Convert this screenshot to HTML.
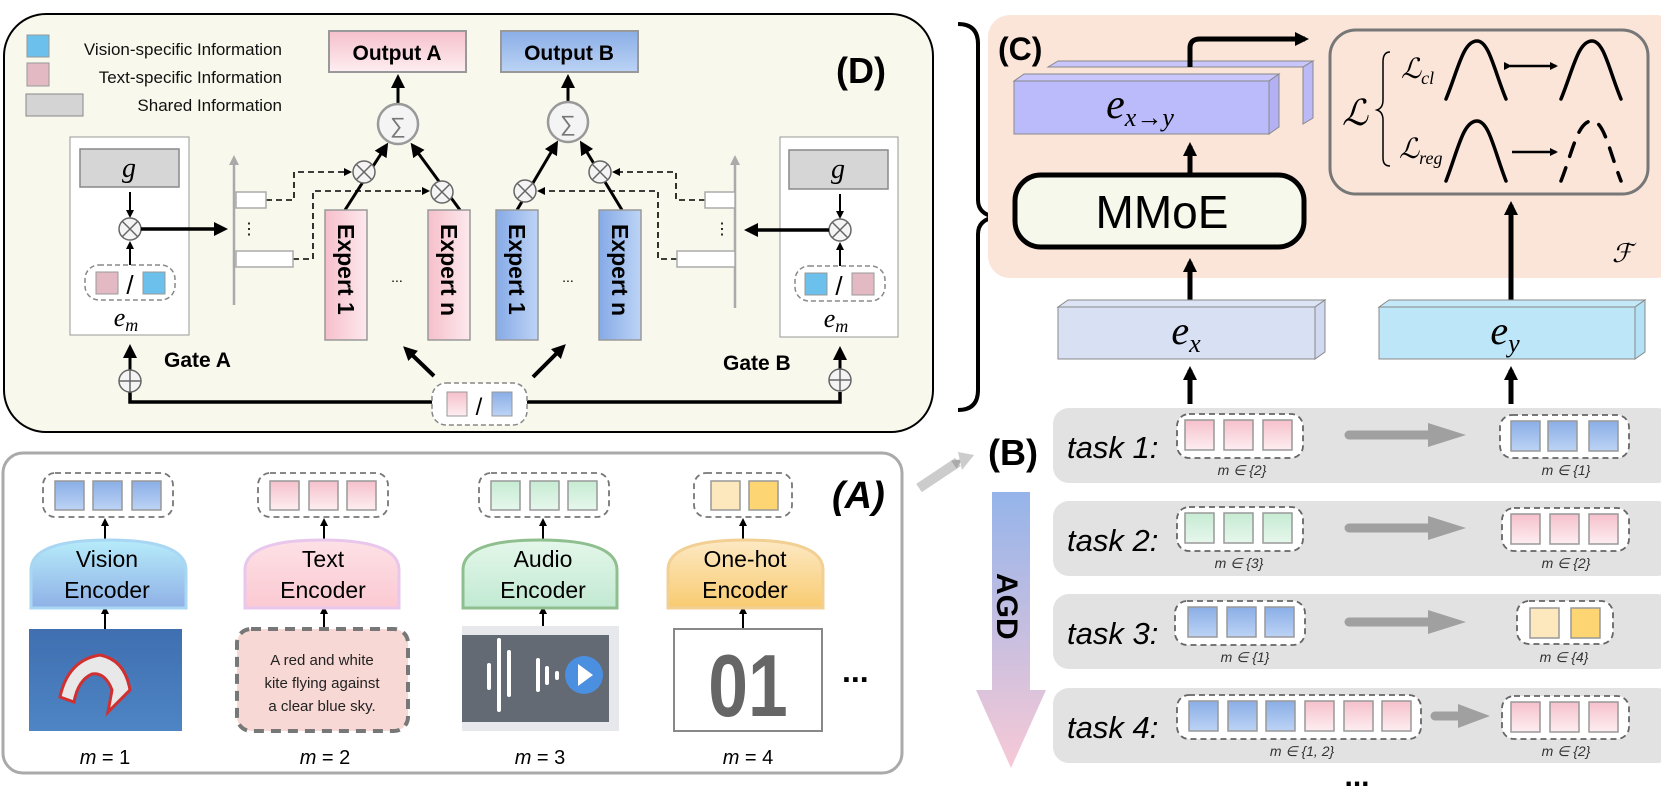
<!DOCTYPE html>
<html><head><meta charset="utf-8"><style>
html,body{margin:0;padding:0;background:#fff}
svg{display:block}
text{font-family:"Liberation Sans",sans-serif}
.s{font-family:"Liberation Serif",serif;font-style:italic}
</style></head><body>
<svg width="1661" height="793" viewBox="0 0 1661 793" xmlns="http://www.w3.org/2000/svg">
<defs>
<linearGradient id="pk" x1="0" y1="0" x2="0" y2="1"><stop offset="0" stop-color="#f6c0cb"/><stop offset="1" stop-color="#fdeef1"/></linearGradient>
<linearGradient id="bl" x1="0" y1="0" x2="0" y2="1"><stop offset="0" stop-color="#8aaee6"/><stop offset="1" stop-color="#bcd3f5"/></linearGradient>
<linearGradient id="gr" x1="0" y1="0" x2="0" y2="1"><stop offset="0" stop-color="#c6ebd3"/><stop offset="1" stop-color="#e6f7ec"/></linearGradient>
<linearGradient id="pkh" x1="0" y1="0" x2="1" y2="0"><stop offset="0" stop-color="#f6bfca"/><stop offset="1" stop-color="#fde9ee"/></linearGradient>
<linearGradient id="blh" x1="0" y1="0" x2="1" y2="0"><stop offset="0" stop-color="#86aae6"/><stop offset="1" stop-color="#bdd4f6"/></linearGradient>
<linearGradient id="agd" x1="0" y1="0" x2="0" y2="1"><stop offset="0" stop-color="#95b4ea"/><stop offset="1" stop-color="#f7c9d6"/></linearGradient>
<linearGradient id="ve" x1="0" y1="0" x2="0" y2="1"><stop offset="0" stop-color="#b6ecfa"/><stop offset="1" stop-color="#8fb0e6"/></linearGradient>
<linearGradient id="te" x1="0" y1="0" x2="0" y2="1"><stop offset="0" stop-color="#fde1e6"/><stop offset="1" stop-color="#fcc9d2"/></linearGradient>
<linearGradient id="ae" x1="0" y1="0" x2="0" y2="1"><stop offset="0" stop-color="#e4f7ea"/><stop offset="1" stop-color="#c1e9d2"/></linearGradient>
<linearGradient id="oe" x1="0" y1="0" x2="0" y2="1"><stop offset="0" stop-color="#fde9c4"/><stop offset="1" stop-color="#f8cb70"/></linearGradient>
<linearGradient id="kite" x1="0" y1="0" x2="0" y2="1"><stop offset="0" stop-color="#3f6fb0"/><stop offset="1" stop-color="#4e85c4"/></linearGradient>
<marker id="ah" markerWidth="8" markerHeight="8" refX="6" refY="4" orient="auto" markerUnits="userSpaceOnUse"><path d="M0,0 L8,4 L0,8 z" fill="#000"/></marker>
<marker id="ahb" markerWidth="14" markerHeight="14" refX="10" refY="7" orient="auto" markerUnits="userSpaceOnUse"><path d="M0,0 L14,7 L0,14 z" fill="#000"/></marker>
<marker id="ahg" markerWidth="10" markerHeight="10" refX="5" refY="5" orient="auto" markerUnits="userSpaceOnUse"><path d="M0,0 L10,5 L0,10 z" fill="#aaa"/></marker>
</defs>

<!-- (D) panel -->
<rect x="4" y="14" width="929" height="418" rx="42" fill="#f8f8ec" stroke="#000" stroke-width="2"/>
<rect x="27" y="35" width="22" height="22" fill="#6cc0ec" stroke="#999"/>
<rect x="27" y="63" width="22" height="23" fill="#e3b9c3" stroke="#999"/>
<rect x="26" y="94" width="57" height="22" fill="#d4d4d4" stroke="#888"/>
<text x="282" y="55" font-size="17" text-anchor="end" fill="#111">Vision-specific Information</text>
<text x="282" y="83" font-size="17" text-anchor="end" fill="#111">Text-specific Information</text>
<text x="282" y="111" font-size="17" text-anchor="end" fill="#111">Shared Information</text>
<rect x="329" y="31" width="137" height="41" fill="url(#pk)" stroke="#999" stroke-width="2"/>
<text x="397" y="60" font-size="21" font-weight="bold" text-anchor="middle">Output A</text>
<rect x="501" y="31" width="137" height="41" fill="url(#bl)" stroke="#999" stroke-width="2"/>
<text x="569" y="60" font-size="21" font-weight="bold" text-anchor="middle">Output B</text>
<text x="836" y="83" font-size="36" font-weight="bold">(D)</text>
<line x1="398" y1="104" x2="398" y2="78" stroke="#000" stroke-width="3" marker-end="url(#ahb)"/>
<line x1="568" y1="102" x2="568" y2="78" stroke="#000" stroke-width="3" marker-end="url(#ahb)"/>
<circle cx="398" cy="124" r="20" fill="#f4f4f4" stroke="#999" stroke-width="2.5"/>
<text x="398" y="133" font-size="22" text-anchor="middle" fill="#777" font-family="DejaVu Sans">∑</text>
<circle cx="568" cy="122" r="20" fill="#f4f4f4" stroke="#999" stroke-width="2.5"/>
<text x="568" y="131" font-size="22" text-anchor="middle" fill="#777" font-family="DejaVu Sans">∑</text>
<g stroke="#000" stroke-width="3" fill="none">
<line x1="345" y1="210" x2="386" y2="146" marker-end="url(#ahb)"/>
<line x1="460" y1="210" x2="413" y2="146" marker-end="url(#ahb)"/>
<line x1="517" y1="210" x2="556" y2="144" marker-end="url(#ahb)"/>
<line x1="622" y1="210" x2="582" y2="144" marker-end="url(#ahb)"/>
</g>
<rect x="325" y="210" width="42" height="130" fill="url(#pkh)" stroke="#999" stroke-width="1.5"/>
<rect x="428" y="210" width="42" height="130" fill="url(#pkh)" stroke="#999" stroke-width="1.5"/>
<rect x="496" y="210" width="42" height="130" fill="url(#blh)" stroke="#999" stroke-width="1.5"/>
<rect x="599" y="210" width="42" height="130" fill="url(#blh)" stroke="#999" stroke-width="1.5"/>
<g font-size="23" font-weight="bold">
<text transform="translate(338,224) rotate(90)">Expert 1</text>
<text transform="translate(441,224) rotate(90)">Expert n</text>
<text transform="translate(509,224) rotate(90)">Expert 1</text>
<text transform="translate(612,224) rotate(90)">Expert n</text>
</g>
<text x="397" y="282" font-size="14" text-anchor="middle">...</text>
<text x="568" y="282" font-size="14" text-anchor="middle">...</text>
<g fill="#f4f4f4" stroke="#666" stroke-width="1.5">
<circle cx="364" cy="172" r="11"/><circle cx="442" cy="192" r="11"/>
<circle cx="525" cy="191" r="11"/><circle cx="600" cy="172" r="11"/>
</g>
<g stroke="#666" stroke-width="1.5">
<path d="M356,164 L372,180 M372,164 L356,180"/><path d="M434,184 L450,200 M450,184 L434,200"/>
<path d="M517,183 L533,199 M533,183 L517,199"/><path d="M592,164 L608,180 M608,164 L592,180"/>
</g>
<g stroke="#000" stroke-width="1.6" stroke-dasharray="6,4" fill="none">
<path d="M266,200 H294 V172 H350" marker-end="url(#ah)"/>
<path d="M293,259 H313 V191 H428" marker-end="url(#ah)"/>
<path d="M705,200 H676 V172 H614" marker-end="url(#ah)"/>
<path d="M677,259 H658 V191 H539" marker-end="url(#ah)"/>
</g>
<!-- gate A -->
<line x1="234" y1="305" x2="234" y2="160" stroke="#aaa" stroke-width="2.5" marker-end="url(#ahg)"/>
<rect x="236" y="192" width="30" height="16" fill="#fff" stroke="#aaa" stroke-width="1.5"/>
<rect x="236" y="251" width="57" height="16" fill="#fff" stroke="#aaa" stroke-width="1.5"/>
<text x="249" y="234" font-size="16" text-anchor="middle">⋮</text>
<rect x="70" y="137" width="119" height="198" fill="#fff" stroke="#999"/>
<rect x="80" y="149" width="99" height="38" fill="#d6d6d6" stroke="#888" stroke-width="1.5"/>
<text x="129" y="177" class="s" font-size="28" text-anchor="middle">g</text>
<line x1="130" y1="192" x2="130" y2="216" stroke="#000" stroke-width="2" marker-end="url(#ah)"/>
<circle cx="130" cy="229" r="11" fill="#f4f4f4" stroke="#666" stroke-width="1.5"/>
<path d="M122,221 L138,237 M138,221 L122,237" stroke="#666" stroke-width="1.5"/>
<line x1="130" y1="265" x2="130" y2="243" stroke="#000" stroke-width="2" marker-end="url(#ah)"/>
<line x1="141" y1="229" x2="224" y2="229" stroke="#000" stroke-width="3.5" marker-end="url(#ahb)"/>
<rect x="85" y="265" width="90" height="35" rx="14" fill="#fff" stroke="#888" stroke-width="1.5" stroke-dasharray="5,3"/>
<rect x="96" y="272" width="22" height="22" fill="#e3b9c3" stroke="#999"/>
<rect x="143" y="272" width="22" height="22" fill="#6cc0ec" stroke="#999"/>
<text x="130" y="294" font-size="26" text-anchor="middle">/</text>
<text x="126" y="326" class="s" font-size="26" text-anchor="middle">e<tspan font-size="18" dy="5">m</tspan></text>
<text x="164" y="367" font-size="21" font-weight="bold">Gate A</text>
<!-- gate B -->
<line x1="735" y1="308" x2="735" y2="160" stroke="#aaa" stroke-width="2.5" marker-end="url(#ahg)"/>
<rect x="705" y="192" width="30" height="16" fill="#fff" stroke="#aaa" stroke-width="1.5"/>
<rect x="677" y="251" width="58" height="16" fill="#fff" stroke="#aaa" stroke-width="1.5"/>
<text x="722" y="234" font-size="16" text-anchor="middle">⋮</text>
<rect x="780" y="137" width="118" height="200" fill="#fff" stroke="#999"/>
<rect x="789" y="150" width="99" height="39" fill="#d6d6d6" stroke="#888" stroke-width="1.5"/>
<text x="838" y="178" class="s" font-size="28" text-anchor="middle">g</text>
<line x1="840" y1="194" x2="840" y2="217" stroke="#000" stroke-width="2" marker-end="url(#ah)"/>
<circle cx="840" cy="230" r="11" fill="#f4f4f4" stroke="#666" stroke-width="1.5"/>
<path d="M832,222 L848,238 M848,222 L832,238" stroke="#666" stroke-width="1.5"/>
<line x1="840" y1="266" x2="840" y2="244" stroke="#000" stroke-width="2" marker-end="url(#ah)"/>
<line x1="829" y1="230" x2="748" y2="230" stroke="#000" stroke-width="3.5" marker-end="url(#ahb)"/>
<rect x="795" y="266" width="90" height="35" rx="14" fill="#fff" stroke="#888" stroke-width="1.5" stroke-dasharray="5,3"/>
<rect x="805" y="273" width="22" height="22" fill="#6cc0ec" stroke="#999"/>
<rect x="852" y="273" width="22" height="22" fill="#e3b9c3" stroke="#999"/>
<text x="839" y="295" font-size="26" text-anchor="middle">/</text>
<text x="836" y="327" class="s" font-size="26" text-anchor="middle">e<tspan font-size="18" dy="5">m</tspan></text>
<text x="723" y="370" font-size="21" font-weight="bold">Gate B</text>
<!-- bus -->
<path d="M130,392 V402 H432 M527,402 H840 V392" fill="none" stroke="#000" stroke-width="3.5"/>
<line x1="130" y1="370" x2="130" y2="348" stroke="#000" stroke-width="3" marker-end="url(#ahb)"/>
<line x1="840" y1="369" x2="840" y2="350" stroke="#000" stroke-width="3" marker-end="url(#ahb)"/>
<circle cx="130" cy="381" r="11" fill="#f4f4f4" stroke="#666" stroke-width="1.5"/>
<path d="M119,381 H141 M130,370 V392" stroke="#666" stroke-width="1.5"/>
<circle cx="840" cy="380" r="11" fill="#f4f4f4" stroke="#666" stroke-width="1.5"/>
<path d="M829,380 H851 M840,369 V391" stroke="#666" stroke-width="1.5"/>
<rect x="432" y="383" width="95" height="42" rx="14" fill="#fff" stroke="#888" stroke-width="1.5" stroke-dasharray="5,3"/>
<rect x="447" y="392" width="20" height="24" fill="url(#pk)" stroke="#999"/>
<rect x="492" y="392" width="20" height="24" fill="url(#bl)" stroke="#999"/>
<text x="479" y="415" font-size="24" text-anchor="middle">/</text>
<line x1="434" y1="376" x2="406" y2="349" stroke="#000" stroke-width="4" marker-end="url(#ahb)"/>
<line x1="533" y1="377" x2="563" y2="347" stroke="#000" stroke-width="4" marker-end="url(#ahb)"/>

<!-- brace -->
<path d="M958,24 Q978,24 978,44 V200 Q978,214 995,217 Q978,220 978,234 V390 Q978,410 958,410" fill="none" stroke="#000" stroke-width="4"/>

<!-- (C) panel -->
<rect x="988" y="15" width="690" height="263" rx="22" fill="#fbe5d9"/>
<text x="998" y="60" font-size="32" font-weight="bold">(C)</text>
<polygon points="1048,67 1058,61 1313,61 1303,67" fill="#c8c6fb" stroke="#888"/>
<polygon points="1303,67 1313,61 1313,118 1303,124" fill="#bcb9f7" stroke="#888"/>
<polygon points="1014,81 1024,74 1279,74 1269,81" fill="#c8c6fb" stroke="#888"/>
<rect x="1014" y="81" width="255" height="53" fill="#bbbbfb" stroke="#888"/>
<polygon points="1269,81 1279,74 1279,127 1269,134" fill="#b3b0f4" stroke="#888"/>
<text x="1140" y="118" class="s" font-size="42" text-anchor="middle">e<tspan font-size="26" dy="8">x→y</tspan></text>
<path d="M1190,67 V48 Q1190,39 1200,39 H1305" fill="none" stroke="#000" stroke-width="5" marker-end="url(#ahb)"/>
<line x1="1190" y1="176" x2="1190" y2="146" stroke="#000" stroke-width="5" marker-end="url(#ahb)"/>
<rect x="1015" y="175" width="289" height="72" rx="26" fill="#f5f8ea" stroke="#000" stroke-width="5"/>
<text x="1162" y="228" font-size="46" text-anchor="middle">MMoE</text>
<line x1="1190" y1="300" x2="1190" y2="262" stroke="#000" stroke-width="5" marker-end="url(#ahb)"/>
<rect x="1330" y="30" width="318" height="164" rx="26" fill="#fbe5d9" stroke="#777" stroke-width="3"/>
<text x="1342" y="125" class="s" font-size="36" font-family="DejaVu Serif">ℒ</text>
<path d="M1390,52 Q1383,52 1383,62 V100 Q1383,108 1377,110 Q1383,112 1383,120 V158 Q1383,166 1390,166" fill="none" stroke="#000" stroke-width="1.5"/>
<text x="1401" y="78" class="s" font-size="28">ℒ<tspan font-size="18" dy="6">cl</tspan></text>
<text x="1399" y="158" class="s" font-size="28">ℒ<tspan font-size="18" dy="6">reg</tspan></text>
<g fill="none" stroke="#000" stroke-width="3.5" stroke-linecap="round">
<path d="M1446,99 C1458,70 1463,41 1477,41 C1489,41 1494,70 1506,99"/>
<path d="M1561,99 C1573,70 1578,41 1592,41 C1604,41 1609,70 1621,99"/>
<path d="M1446,181 C1458,150 1463,121 1477,121 C1489,121 1494,150 1506,181"/>
<path d="M1561,181 C1573,150 1578,121 1592,121 C1604,121 1609,150 1621,181" stroke-dasharray="14,12"/>
</g>
<path d="M1510,66 H1556" stroke="#000" stroke-width="2.5" marker-start="url(#ah)" marker-end="url(#ah)"/>
<path d="M1512,152 H1556" stroke="#000" stroke-width="2.5" marker-end="url(#ah)"/>
<text x="1612" y="262" class="s" font-size="26" font-family="DejaVu Serif">ℱ</text>
<line x1="1511" y1="300" x2="1511" y2="205" stroke="#000" stroke-width="5" marker-end="url(#ahb)"/>
<polygon points="1058,307 1068,300 1325,300 1315,307" fill="#dbe3f5" stroke="#888"/>
<rect x="1058" y="307" width="257" height="52" fill="#d8e0f4" stroke="#888"/>
<polygon points="1315,307 1325,300 1325,352 1315,359" fill="#d0d9f0" stroke="#888"/>
<text x="1186" y="344" class="s" font-size="40" text-anchor="middle">e<tspan font-size="26" dy="8">x</tspan></text>
<polygon points="1379,307 1389,300 1645,300 1635,307" fill="#c3e9f9" stroke="#888"/>
<rect x="1379" y="307" width="256" height="52" fill="#bde6f8" stroke="#888"/>
<polygon points="1635,307 1645,300 1645,352 1635,359" fill="#b3e1f5" stroke="#888"/>
<text x="1505" y="344" class="s" font-size="40" text-anchor="middle">e<tspan font-size="26" dy="8">y</tspan></text>
<line x1="1190" y1="404" x2="1190" y2="370" stroke="#000" stroke-width="5" marker-end="url(#ahb)"/>
<line x1="1511" y1="404" x2="1511" y2="370" stroke="#000" stroke-width="5" marker-end="url(#ahb)"/>

<!-- (B) -->
<text x="988" y="465" font-size="36" font-weight="bold">(B)</text>
<line x1="919" y1="488" x2="958" y2="462" stroke="#ccc" stroke-width="10" marker-end="url(#ahg)"/>
<polygon points="958,452 974,455 962,470" fill="#ccc"/>
<polygon points="992,492 1030,492 1030,690 1046,690 1011,768 976,690 992,690" fill="url(#agd)"/>
<text transform="translate(997,573) rotate(90)" font-size="30" font-weight="bold">AGD</text>
<g fill="#e2e2e2">
<rect x="1053" y="408" width="620" height="75" rx="16"/>
<rect x="1053" y="501" width="620" height="75" rx="16"/>
<rect x="1053" y="594" width="620" height="75" rx="16"/>
<rect x="1053" y="688" width="620" height="75" rx="16"/>
</g>
<g font-size="31" font-style="italic">
<text x="1067" y="458">task 1:</text><text x="1067" y="551">task 2:</text>
<text x="1067" y="644">task 3:</text><text x="1067" y="738">task 4:</text>
</g>
<g fill="#fff" stroke="#666" stroke-width="1.8" stroke-dasharray="6,4">
<rect x="1177" y="414" width="126" height="44" rx="12"/><rect x="1500" y="415" width="129" height="43" rx="12"/>
<rect x="1177" y="507" width="126" height="44" rx="12"/><rect x="1502" y="508" width="127" height="43" rx="12"/>
<rect x="1175" y="601" width="130" height="44" rx="12"/><rect x="1517" y="601" width="96" height="43" rx="12"/>
<rect x="1177" y="695" width="244" height="44" rx="12"/><rect x="1502" y="696" width="127" height="43" rx="12"/>
</g>
<g stroke="#999" stroke-width="1.5">
<rect x="1185" y="420" width="29" height="30" fill="url(#pk)"/><rect x="1224" y="420" width="29" height="30" fill="url(#pk)"/><rect x="1263" y="420" width="29" height="30" fill="url(#pk)"/>
<rect x="1511" y="421" width="29" height="30" fill="url(#bl)"/><rect x="1548" y="421" width="29" height="30" fill="url(#bl)"/><rect x="1589" y="421" width="29" height="30" fill="url(#bl)"/>
<rect x="1185" y="513" width="29" height="30" fill="url(#gr)"/><rect x="1224" y="513" width="29" height="30" fill="url(#gr)"/><rect x="1263" y="513" width="29" height="30" fill="url(#gr)"/>
<rect x="1511" y="514" width="29" height="30" fill="url(#pk)"/><rect x="1550" y="514" width="29" height="30" fill="url(#pk)"/><rect x="1589" y="514" width="29" height="30" fill="url(#pk)"/>
<rect x="1188" y="607" width="29" height="30" fill="url(#bl)"/><rect x="1227" y="607" width="29" height="30" fill="url(#bl)"/><rect x="1265" y="607" width="29" height="30" fill="url(#bl)"/>
<rect x="1530" y="608" width="29" height="30" fill="#fde8bd"/><rect x="1571" y="608" width="29" height="30" fill="#fdd673"/>
<rect x="1189" y="701" width="29" height="30" fill="url(#bl)"/><rect x="1228" y="701" width="29" height="30" fill="url(#bl)"/><rect x="1266" y="701" width="29" height="30" fill="url(#bl)"/>
<rect x="1305" y="701" width="29" height="30" fill="url(#pk)"/><rect x="1344" y="701" width="29" height="30" fill="url(#pk)"/><rect x="1382" y="701" width="29" height="30" fill="url(#pk)"/>
<rect x="1511" y="702" width="29" height="30" fill="url(#pk)"/><rect x="1550" y="702" width="29" height="30" fill="url(#pk)"/><rect x="1589" y="702" width="29" height="30" fill="url(#pk)"/>
</g>
<g stroke="#a0a0a0" stroke-width="9" stroke-linecap="round">
<line x1="1349" y1="435" x2="1430" y2="435"/><line x1="1349" y1="528" x2="1430" y2="528"/>
<line x1="1349" y1="622" x2="1430" y2="622"/><line x1="1435" y1="716" x2="1460" y2="716"/>
</g>
<g fill="#a0a0a0">
<polygon points="1428,423 1466,435 1428,447"/><polygon points="1428,516 1466,528 1428,540"/>
<polygon points="1428,610 1466,622 1428,634"/><polygon points="1458,704 1490,716 1458,728"/>
</g>
<g class="s" font-size="14" text-anchor="middle" fill="#333">
<text x="1242" y="475">m ∈ {2}</text><text x="1566" y="475">m ∈ {1}</text>
<text x="1239" y="568">m ∈ {3}</text><text x="1566" y="568">m ∈ {2}</text>
<text x="1245" y="662">m ∈ {1}</text><text x="1564" y="662">m ∈ {4}</text>
<text x="1302" y="756">m ∈ {1, 2}</text><text x="1566" y="756">m ∈ {2}</text>
</g>
<text x="1357" y="786" font-size="30" font-weight="bold" text-anchor="middle">...</text>

<!-- (A) panel -->
<rect x="3" y="453" width="899" height="320" rx="20" fill="#fff" stroke="#aaa" stroke-width="3"/>
<text x="832" y="508" font-size="38" font-weight="bold" font-style="italic">(A)</text>
<g fill="#fff" stroke="#777" stroke-width="1.8" stroke-dasharray="6,4">
<rect x="43" y="473" width="130" height="44" rx="12"/>
<rect x="258" y="473" width="130" height="44" rx="12"/>
<rect x="479" y="473" width="130" height="44" rx="12"/>
<rect x="694" y="473" width="98" height="44" rx="12"/>
</g>
<g stroke="#999" stroke-width="1.5">
<rect x="55" y="481" width="29" height="29" fill="url(#bl)"/><rect x="93" y="481" width="29" height="29" fill="url(#bl)"/><rect x="132" y="481" width="29" height="29" fill="url(#bl)"/>
<rect x="270" y="481" width="29" height="29" fill="url(#pk)"/><rect x="309" y="481" width="29" height="29" fill="url(#pk)"/><rect x="347" y="481" width="29" height="29" fill="url(#pk)"/>
<rect x="491" y="481" width="29" height="29" fill="url(#gr)"/><rect x="530" y="481" width="29" height="29" fill="url(#gr)"/><rect x="568" y="481" width="29" height="29" fill="url(#gr)"/>
<rect x="711" y="481" width="29" height="29" fill="#fde8bd"/><rect x="749" y="481" width="29" height="29" fill="#fdd673"/>
</g>
<g stroke="#000" stroke-width="2">
<line x1="105" y1="542" x2="105" y2="520" marker-end="url(#ah)"/>
<line x1="324" y1="542" x2="324" y2="520" marker-end="url(#ah)"/>
<line x1="543" y1="542" x2="543" y2="520" marker-end="url(#ah)"/>
<line x1="743" y1="542" x2="743" y2="520" marker-end="url(#ah)"/>
<line x1="105" y1="629" x2="105" y2="608" marker-end="url(#ah)"/>
<line x1="324" y1="629" x2="324" y2="608" marker-end="url(#ah)"/>
<line x1="543" y1="626" x2="543" y2="608" marker-end="url(#ah)"/>
<line x1="743" y1="629" x2="743" y2="608" marker-end="url(#ah)"/>
</g>
<path d="M31,608 V570 Q31,540 108,540 Q186,540 186,570 V608 Z" fill="url(#ve)" stroke="#a9d6f3" stroke-width="3"/>
<path d="M245,608 V570 Q245,540 322,540 Q399,540 399,570 V608 Z" fill="url(#te)" stroke="#e9c6ec" stroke-width="3"/>
<path d="M463,608 V570 Q463,540 540,540 Q617,540 617,570 V608 Z" fill="url(#ae)" stroke="#8fbf8f" stroke-width="3"/>
<path d="M668,608 V570 Q668,540 745,540 Q823,540 823,570 V608 Z" fill="url(#oe)" stroke="#f2cf93" stroke-width="3"/>
<g font-size="23" text-anchor="middle">
<text x="107" y="567">Vision</text><text x="107" y="598">Encoder</text>
<text x="323" y="567">Text</text><text x="323" y="598">Encoder</text>
<text x="543" y="567">Audio</text><text x="543" y="598">Encoder</text>
<text x="745" y="567">One-hot</text><text x="745" y="598">Encoder</text>
</g>
<rect x="29" y="629" width="153" height="102" fill="url(#kite)"/>
<path d="M60,697 Q68,660 100,655 Q125,660 130,690 L108,712 L112,690 Q105,672 92,674 Q78,680 74,702 Z" fill="#e8e8e8" stroke="#d03030" stroke-width="3"/>
<rect x="237" y="629" width="171" height="102" rx="14" fill="#f7d8d4" stroke="#777" stroke-width="4" stroke-dasharray="10,7"/>
<g font-size="15" text-anchor="middle" fill="#222">
<text x="322" y="665">A red and white</text><text x="322" y="688">kite flying against</text><text x="322" y="711">a clear blue sky.</text>
</g>
<rect x="462" y="626" width="157" height="105" fill="#e6e8ec"/>
<rect x="462" y="635" width="147" height="87" fill="#646a73"/>
<g stroke="#fff" stroke-width="4" stroke-linecap="round">
<line x1="489" y1="665" x2="489" y2="688"/><line x1="499" y1="640" x2="499" y2="710"/><line x1="509" y1="652" x2="509" y2="695"/>
<line x1="538" y1="660" x2="538" y2="690"/><line x1="547" y1="668" x2="547" y2="683"/><line x1="557" y1="673" x2="557" y2="678"/>
</g>
<circle cx="584" cy="675" r="19" fill="#4a8fe0"/>
<polygon points="578,664 593,675 578,686" fill="#fff"/>
<rect x="674" y="629" width="148" height="102" fill="#fff" stroke="#888" stroke-width="2"/>
<text x="0" y="0" font-size="84" font-weight="bold" fill="#666" text-anchor="middle" transform="translate(748,716) scale(0.85,1.05)">01</text>
<text x="842" y="682" font-size="32" font-weight="bold">...</text>
<g font-family="Liberation Serif,serif" font-size="20" text-anchor="middle">
<text x="105" y="764"><tspan font-style="italic">m</tspan> = 1</text>
<text x="325" y="764"><tspan font-style="italic">m</tspan> = 2</text>
<text x="540" y="764"><tspan font-style="italic">m</tspan> = 3</text>
<text x="748" y="764"><tspan font-style="italic">m</tspan> = 4</text>
</g>
</svg>
</body></html>
